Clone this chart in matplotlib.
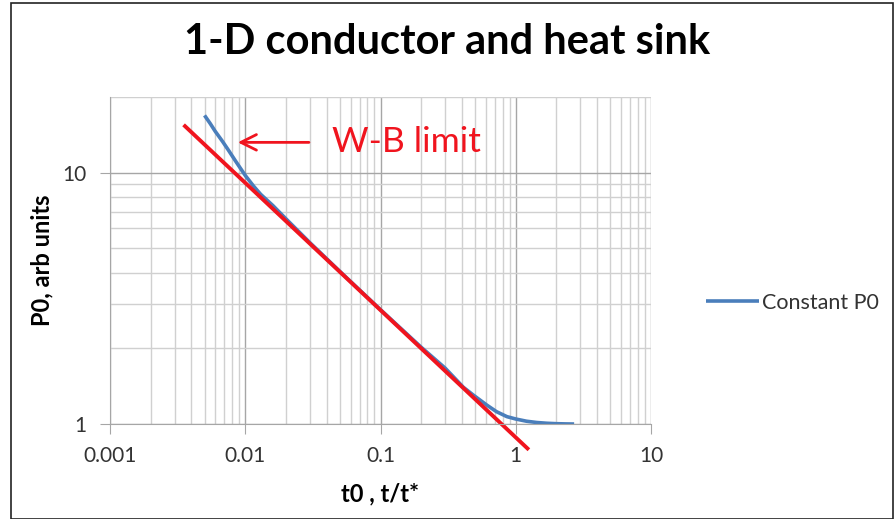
import numpy as np
import matplotlib
matplotlib.use("Agg")
import matplotlib.pyplot as plt
from matplotlib.ticker import LogLocator, NullFormatter, FixedLocator, FixedFormatter
from matplotlib.patches import Rectangle

plt.rcParams['font.family'] = ['Lato', 'DejaVu Sans']

# values
t_blue = [0.005, 0.0055, 0.006, 0.0068, 0.0075, 0.0085, 0.01, 0.0115, 0.013, 0.016,
          0.02, 0.03, 0.05, 0.1, 0.2, 0.3, 0.41, 0.484, 0.61, 0.72, 0.86, 1.0,
          1.2, 1.43, 1.7, 2.0, 2.35, 2.7]
p_blue = [16.9, 15.7, 14.6, 13.3, 12.3, 11.1, 9.75, 8.85, 8.2, 7.4,
          6.55, 5.27, 4.05, 2.85, 2.02, 1.67, 1.40, 1.305, 1.19, 1.12, 1.07, 1.047,
          1.026, 1.014, 1.007, 1.003, 1.001, 1.0]
t_red = [0.0035, 1.25]
p_red = [15.5, 0.79]
x_ticks = [0.001, 0.01, 0.1, 1, 10]
x_labels = ['0.001', '0.01', '0.1', '1', '10']
y_ticks = [1, 10]
y_labels = ['1', '10']

fig = plt.figure(figsize=(8.95, 5.19), dpi=100)
ax = fig.add_axes([0.1229, 0.1830, 0.6045, 0.6301])

ax.plot(t_blue, p_blue, color='#4a7ebb', lw=2.6, solid_capstyle='butt',
        solid_joinstyle='round', label='Constant P0')
ax.plot(t_red, p_red, color='#f0141e', lw=2.8, solid_capstyle='butt', clip_on=False)

ax.set_xscale('log')
ax.set_yscale('log')
ax.set_xlim(0.001, 10)
ax.set_ylim(1, 20)

ax.xaxis.set_major_locator(FixedLocator(x_ticks))
ax.xaxis.set_major_formatter(FixedFormatter(x_labels))
ax.yaxis.set_major_locator(FixedLocator(y_ticks))
ax.yaxis.set_major_formatter(FixedFormatter(y_labels))
ax.xaxis.set_minor_locator(LogLocator(base=10, subs=np.arange(2, 10)))
ax.yaxis.set_minor_locator(LogLocator(base=10, subs=np.arange(2, 10)))
ax.xaxis.set_minor_formatter(NullFormatter())
ax.yaxis.set_minor_formatter(NullFormatter())

ax.grid(which='major', color='#a6a6a6', lw=1.0)
ax.grid(which='minor', color='#d0d0d0', lw=1.0)
ax.set_axisbelow(True)
ax.tick_params(which='major', length=7, color='#a6a6a6', labelsize=15,
               labelcolor='#333333')
ax.tick_params(axis='x', pad=9)
ax.tick_params(axis='y', pad=10)
ax.tick_params(which='minor', length=0)
for s in ['top', 'right']:
    ax.spines[s].set_visible(False)
for s in ['left', 'bottom']:
    ax.spines[s].set_color('#a6a6a6')

ax.set_xlabel('t0 , t/t*', fontsize=17, fontweight='bold', labelpad=12)
ax.set_ylabel('P0, arb units', fontsize=17, fontweight='bold', labelpad=6)

# W-B limit callout
ax.annotate('', xy=(0.0084, 13.2), xytext=(0.031, 13.2),
            arrowprops=dict(arrowstyle='->', color='#f0141e', lw=2, mutation_scale=28))
ax.text(0.044, 13.2, 'W-B limit', color='#f0141e', fontsize=25.5, ha='left', va='center')

fig.suptitle('1-D conductor and heat sink', fontsize=30, fontweight='bold', y=0.955)

ax.legend(loc='center left', bbox_to_anchor=(1.065, 0.37), frameon=False, fontsize=15.5,
          handlelength=2.5, handletextpad=0.1, labelcolor='#333333')

fig.patches.append(Rectangle((0.012, 0.0), 0.986, 0.995, transform=fig.transFigure,
                             fill=False, edgecolor='#222222', lw=1.2))

fig.savefig('out.png', dpi=100)
